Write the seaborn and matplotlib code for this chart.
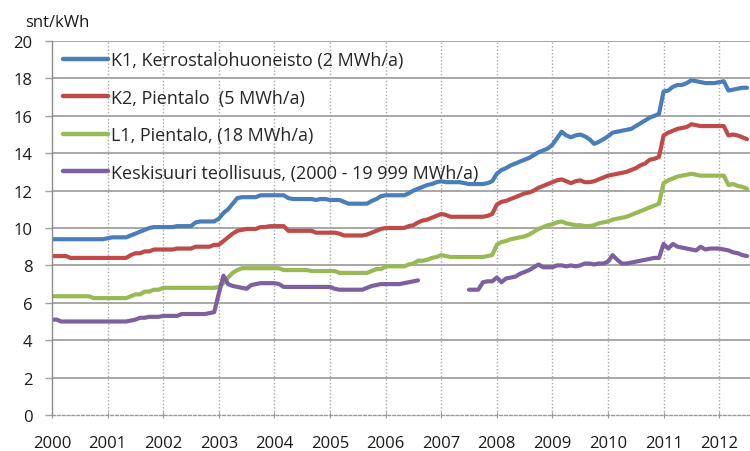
import numpy as np
import pandas as pd
import matplotlib
matplotlib.use("Agg")
import matplotlib.pyplot as plt
import seaborn as sns

nan = np.nan

# Monthly values, Jan 2000 .. Jul 2012 (one row per year)
k1 = [
    9.4, 9.4, 9.4, 9.4, 9.4, 9.4, 9.4, 9.4, 9.4, 9.4, 9.4, 9.4,
    9.45, 9.5, 9.5, 9.5, 9.5, 9.6, 9.7, 9.8, 9.9, 10.0, 10.05, 10.05,
    10.05, 10.05, 10.05, 10.1, 10.1, 10.1, 10.1, 10.3, 10.35, 10.35, 10.35, 10.35,
    10.5, 10.8, 11.0, 11.3, 11.6, 11.65, 11.65, 11.65, 11.65, 11.75, 11.75, 11.75,
    11.75, 11.75, 11.75, 11.6, 11.55, 11.55, 11.55, 11.55, 11.55, 11.5, 11.55, 11.55,
    11.5, 11.5, 11.5, 11.4, 11.3, 11.3, 11.3, 11.3, 11.3, 11.45, 11.55, 11.7,
    11.75, 11.75, 11.75, 11.75, 11.75, 11.85, 12.0, 12.1, 12.2, 12.3, 12.35, 12.45,
    12.5, 12.45, 12.45, 12.45, 12.45, 12.4, 12.35, 12.35, 12.35, 12.35, 12.4, 12.5,
    12.9, 13.1, 13.2, 13.35, 13.45, 13.55, 13.65, 13.75, 13.9, 14.05, 14.15, 14.25,
    14.45, 14.8, 15.15, 14.95, 14.85, 14.95, 15.0, 14.9, 14.75, 14.5, 14.6, 14.75,
    14.9, 15.1, 15.15, 15.2, 15.25, 15.3, 15.45, 15.6, 15.75, 15.9, 16.0, 16.1,
    17.3, 17.35, 17.55, 17.65, 17.65, 17.75, 17.9, 17.85, 17.8, 17.75, 17.75, 17.75,
    17.8, 17.85, 17.35, 17.4, 17.45, 17.5, 17.5,
]
k2 = [
    8.5, 8.5, 8.5, 8.5, 8.4, 8.4, 8.4, 8.4, 8.4, 8.4, 8.4, 8.4,
    8.4, 8.4, 8.4, 8.4, 8.4, 8.55, 8.65, 8.65, 8.75, 8.75, 8.85, 8.85,
    8.85, 8.85, 8.85, 8.9, 8.9, 8.9, 8.9, 9.0, 9.0, 9.0, 9.0, 9.1,
    9.1, 9.3, 9.5, 9.7, 9.85, 9.9, 9.95, 9.95, 9.95, 10.05, 10.05, 10.1,
    10.1, 10.1, 10.1, 9.85, 9.85, 9.85, 9.85, 9.85, 9.85, 9.75, 9.75, 9.75,
    9.75, 9.75, 9.7, 9.6, 9.6, 9.6, 9.6, 9.6, 9.65, 9.75, 9.85, 9.95,
    10.0, 10.0, 10.0, 10.0, 10.0, 10.1, 10.15, 10.3, 10.4, 10.45, 10.55, 10.65,
    10.75, 10.7, 10.6, 10.6, 10.6, 10.6, 10.6, 10.6, 10.6, 10.6, 10.65, 10.75,
    11.25, 11.4, 11.45, 11.55, 11.65, 11.75, 11.85, 11.9, 12.0, 12.15, 12.25, 12.35,
    12.45, 12.55, 12.6, 12.5, 12.4, 12.5, 12.55, 12.45, 12.45, 12.5, 12.6, 12.7,
    12.8, 12.85, 12.9, 12.95, 13.0, 13.1, 13.2, 13.35, 13.45, 13.65, 13.7, 13.8,
    14.95, 15.1, 15.2, 15.3, 15.35, 15.4, 15.55, 15.5, 15.45, 15.45, 15.45, 15.45,
    15.45, 15.45, 14.95, 15.0, 14.95, 14.85, 14.75,
]
l1 = [
    6.35, 6.35, 6.35, 6.35, 6.35, 6.35, 6.35, 6.35, 6.35, 6.25, 6.25, 6.25,
    6.25, 6.25, 6.25, 6.25, 6.25, 6.35, 6.45, 6.45, 6.6, 6.6, 6.7, 6.7,
    6.8, 6.8, 6.8, 6.8, 6.8, 6.8, 6.8, 6.8, 6.8, 6.8, 6.8, 6.8,
    6.85, 7.05, 7.35, 7.6, 7.75, 7.85, 7.85, 7.85, 7.85, 7.85, 7.85, 7.85,
    7.85, 7.85, 7.75, 7.75, 7.75, 7.75, 7.75, 7.75, 7.7, 7.7, 7.7, 7.7,
    7.7, 7.7, 7.6, 7.6, 7.6, 7.6, 7.6, 7.6, 7.6, 7.7, 7.8, 7.8,
    7.95, 7.95, 7.95, 7.95, 7.95, 8.05, 8.1, 8.25, 8.25, 8.3, 8.4, 8.45,
    8.55, 8.5, 8.45, 8.45, 8.45, 8.45, 8.45, 8.45, 8.45, 8.45, 8.5, 8.55,
    9.1, 9.25, 9.3, 9.4, 9.45, 9.5, 9.55, 9.65, 9.8, 9.95, 10.05, 10.15,
    10.2, 10.3, 10.35, 10.25, 10.2, 10.15, 10.15, 10.1, 10.1, 10.15, 10.25, 10.3,
    10.35, 10.45, 10.5, 10.55, 10.6, 10.7, 10.8, 10.9, 11.0, 11.1, 11.2, 11.3,
    12.4, 12.55, 12.65, 12.75, 12.8, 12.85, 12.9, 12.85, 12.8, 12.8, 12.8, 12.8,
    12.8, 12.8, 12.3, 12.35, 12.25, 12.2, 12.1,
]
ks = [
    5.1, 5.1, 5.0, 5.0, 5.0, 5.0, 5.0, 5.0, 5.0, 5.0, 5.0, 5.0,
    5.0, 5.0, 5.0, 5.0, 5.0, 5.05, 5.1, 5.2, 5.2, 5.25, 5.25, 5.25,
    5.3, 5.3, 5.3, 5.3, 5.4, 5.4, 5.4, 5.4, 5.4, 5.4, 5.45, 5.5,
    6.5, 7.45, 7.0, 6.9, 6.85, 6.8, 6.75, 6.95, 7.0, 7.05, 7.05, 7.05,
    7.05, 7.0, 6.85, 6.85, 6.85, 6.85, 6.85, 6.85, 6.85, 6.85, 6.85, 6.85,
    6.85, 6.75, 6.7, 6.7, 6.7, 6.7, 6.7, 6.7, 6.8, 6.9, 6.95, 7.0,
    7.0, 7.0, 7.0, 7.0, 7.05, 7.1, 7.15, 7.2, nan, nan, nan, nan,
    nan, nan, nan, nan, nan, nan, 6.7, 6.7, 6.7, 7.1, 7.15, 7.15,
    7.35, 7.1, 7.3, 7.35, 7.4, 7.55, 7.65, 7.75, 7.9, 8.05, 7.9, 7.9,
    7.9, 8.0, 8.0, 7.95, 8.0, 7.95, 8.0, 8.1, 8.1, 8.05, 8.1, 8.1,
    8.2, 8.55, 8.3, 8.1, 8.1, 8.15, 8.2, 8.25, 8.3, 8.35, 8.4, 8.4,
    9.15, 8.9, 9.15, 9.0, 8.95, 8.9, 8.85, 8.8, 9.0, 8.85, 8.9, 8.9,
    8.9, 8.85, 8.8, 8.7, 8.65, 8.55, 8.5,
]

series_labels = [
    "K1, Kerrostalohuoneisto (2 MWh/a)",
    "K2, Pientalo  (5 MWh/a)",
    "L1, Pientalo, (18 MWh/a)",
    "Keskisuuri teollisuus, (2000 - 19 999 MWh/a)",
]
series_colors = ["#4A7EBB", "#BE4B48", "#98B954", "#7D60A0"]
year_ticks = list(range(2000, 2013))
y_ticks = list(range(0, 21, 2))

rows = []
for lab, vals in zip(series_labels, [k1, k2, l1, ks]):
    seg = 0
    gap = False
    for m, v in enumerate(vals):
        if np.isnan(v):
            gap = True
            continue
        if gap:
            seg += 1
            gap = False
        rows.append({"t": 2000 + m / 12.0, "v": v, "s": lab, "u": seg})
df = pd.DataFrame(rows)

sns.set_theme(style="white")
plt.rcParams["font.family"] = ["Open Sans", "DejaVu Sans"]

W, H = 750, 452
fig = plt.figure(figsize=(W / 100, H / 100), dpi=100)
ax = fig.add_axes([52 / W, 36 / H, (W - 52) / W, 374 / H])

sns.lineplot(data=df, x="t", y="v", hue="s", units="u", estimator=None,
             palette=dict(zip(series_labels, series_colors)),
             linewidth=3, sort=False, ax=ax, legend=True)

ax.set_xlim(2000, 2000 + (W - 52) / 55.6)
ax.set_ylim(0, 20)
ax.set_xticks(year_ticks)
ax.set_xticklabels([str(y) for y in year_ticks])
ax.set_yticks(y_ticks)
ax.set_xlabel("")
ax.set_ylabel("")

# grid
for yv in y_ticks[1:]:
    ax.axhline(yv, color="#A0A0A0", lw=1.3, zorder=0.5)
for xv in year_ticks[1:]:
    ax.axvline(xv, color="#A8A8A8", lw=1.0, ls=(0, (1, 1.5)), zorder=0.5)

for side in ["top", "right"]:
    ax.spines[side].set_visible(False)
ax.spines["left"].set_color("#8C8C8C")
ax.spines["left"].set_linewidth(1.0)
ax.spines["bottom"].set_color("#9A9A9A")
ax.spines["bottom"].set_linewidth(1.0)
ax.spines["bottom"].set_linestyle((0, (2, 1.5)))

ax.tick_params(axis="x", direction="inout", length=5, width=0.8, color="#9A9A9A",
               pad=12, labelsize=12, labelcolor="#1a1a1a", bottom=True)
ax.tick_params(axis="y", direction="out", length=5, width=1.0, color="#A0A0A0",
               pad=9, labelsize=12, labelcolor="#1a1a1a", left=True)

handles, labels = ax.get_legend_handles_labels()
leg = ax.legend(handles, labels, loc="upper left", bbox_to_anchor=(0.016, 0.973),
                frameon=False, fontsize=13, handlelength=2.5, handletextpad=0.17,
                labelspacing=1.08, borderaxespad=0.0, borderpad=0.0)
for line in leg.get_lines():
    line.set_linewidth(3.2)

fig.text(25 / W, 1 - 23 / H, "snt/kWh", fontsize=12, color="#1a1a1a",
         va="center", ha="left")

fig.savefig("out.png", dpi=100)
